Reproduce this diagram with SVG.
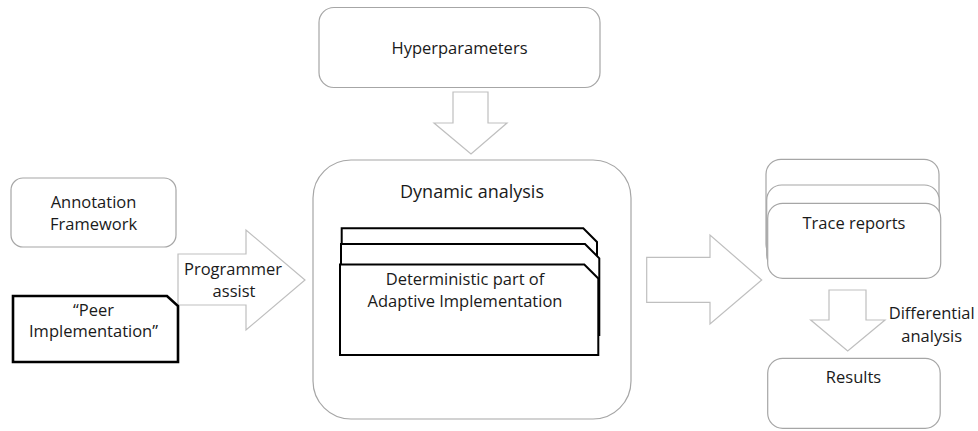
<svg xmlns="http://www.w3.org/2000/svg" width="978" height="431" viewBox="0 0 978 431">
<style>
.box{fill:#fff;stroke:#a6a6a6;stroke-width:1.2}
.doc{fill:#fff;stroke:#000;stroke-width:2}
.peer{fill:#fff;stroke:#000;stroke-width:2.6}
.arr{fill:#fff;stroke:#bfbfbf;stroke-width:1.2;stroke-linejoin:miter}
text{font-family:"Open Sans","Liberation Sans",sans-serif;font-size:16.5px;fill:#1a1a1a;text-anchor:middle}
.big{font-size:18px}
</style>
<rect width="978" height="431" fill="#fff"/>
<g id="connectors">
  <polygon class="arr" points="453,92 488,92 488,123 507,123 471,154 434,123 453,123"/>
  <polygon class="arr" points="178,254 246,254 246,230 305,280 246,330 246,305 178,305"/>
  <polygon class="arr" points="646.7,257.3 710,257.3 710,235 761.7,280 710,324 710,302.3 646.7,302.3"/>
  <polygon class="arr" points="829,290 866,290 866,320 885,320 847.7,351 810.7,320 829,320"/>
  <text x="233" y="275">Programmer</text>
  <text x="234" y="297">assist</text>
  <text x="931.7" y="319">Differential</text>
  <text x="931.7" y="342">analysis</text>
</g>
<g id="hyperparameters">
  <rect class="box" x="319" y="7.5" width="281" height="80" rx="15"/>
  <text x="459.5" y="54">Hyperparameters</text>
</g>
<g id="dynamic-analysis">
  <rect class="box" x="313" y="160" width="318" height="259" rx="38"/>
  <text class="big" x="472" y="198">Dynamic analysis</text>
</g>
<g id="adaptive-implementation">
  <path class="doc" d="M341.7,228.3 H583.3 L597,242 V319 H341.7 Z"/>
  <path class="doc" d="M341,244 H585 L599.3,258.3 V335 H341 Z"/>
  <path class="doc" d="M340,264.5 H584.3 L598.3,278.5 V355 H340 Z"/>
  <text x="465" y="285">Deterministic part of</text>
  <text x="465" y="307">Adaptive Implementation</text>
</g>
<g id="annotation-framework">
  <rect class="box" x="11" y="178" width="165" height="69" rx="12"/>
  <text x="93.5" y="208">Annotation</text>
  <text x="93.5" y="230">Framework</text>
</g>
<g id="peer-implementation">
  <path class="peer" d="M13,296 H167 L178,306 V362 H13 Z"/>
  <text x="93.5" y="316">“Peer</text>
  <text x="93.5" y="337">Implementation”</text>
</g>
<g id="trace-reports">
  <rect class="box" x="766" y="159.3" width="173" height="100" rx="15"/>
  <rect class="box" x="766.7" y="185" width="172.5" height="85" rx="15"/>
  <rect class="box" x="767.7" y="203.3" width="173" height="75" rx="15"/>
  <text x="854" y="229">Trace reports</text>
</g>
<g id="results">
  <rect class="box" x="767.7" y="358.3" width="172.5" height="70" rx="15"/>
  <text x="853.5" y="383">Results</text>
</g>
</svg>
